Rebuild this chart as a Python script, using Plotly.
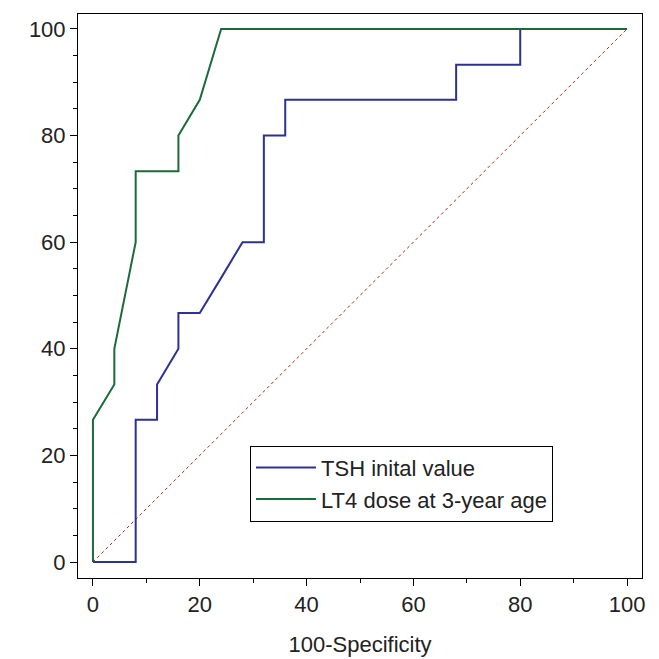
import plotly.graph_objects as go

tsh_x = [0, 8, 8, 12, 12, 16, 16, 20, 24, 28, 32, 32, 36, 36, 68, 68, 80, 80, 100]
tsh_y = [0, 0, 26.7, 26.7, 33.3, 40, 46.7, 46.7, 53.3, 60, 60, 80, 80, 86.7, 86.7, 93.3, 93.3, 100, 100]

lt4_x = [0, 0, 4, 4, 8, 8, 16, 16, 20, 24, 100]
lt4_y = [0, 26.7, 33.3, 40, 60, 73.3, 73.3, 80, 86.7, 100, 100]

ref = [0, 100]

fig = go.Figure()
fig.add_trace(go.Scatter(x=ref, y=ref, mode="lines", showlegend=False,
                         line=dict(color="#a0282a", width=1, dash="dot")))
fig.add_trace(go.Scatter(x=tsh_x, y=tsh_y, mode="lines", name="TSH inital value",
                         line=dict(color="#2e3192", width=2)))
fig.add_trace(go.Scatter(x=lt4_x, y=lt4_y, mode="lines", name="LT4 dose at 3-year age",
                         line=dict(color="#1b6b3a", width=2)))

axis = dict(showline=True, linecolor="black", linewidth=1, mirror=True, ticks="outside",
            ticklen=7, tickcolor="black", showgrid=False, zeroline=False, dtick=20,
            tickfont=dict(size=22, color="#222"),
            minor=dict(ticks="outside", ticklen=4, dtick=10, tickcolor="black"))
fig.update_xaxes(axis, range=[-2.8, 102.8], title=dict(text="100-Specificity", font=dict(size=22, color="#222"), standoff=20))
fig.update_yaxes(axis, range=[-3, 102.8])
fig.update_yaxes(minor=dict(dtick=5))
fig.update_layout(
    width=659, height=659, plot_bgcolor="white", paper_bgcolor="white",
    margin=dict(l=70, r=25, t=6, b=89),
    font=dict(family="Liberation Sans, Arial", color="#222"),
    legend=dict(x=0.305, y=0.1, xanchor="left", yanchor="bottom", bordercolor="black",
                borderwidth=1, bgcolor="white", font=dict(size=22), itemwidth=60,
                tracegroupgap=6),
)
fig.write_html("out.html")
